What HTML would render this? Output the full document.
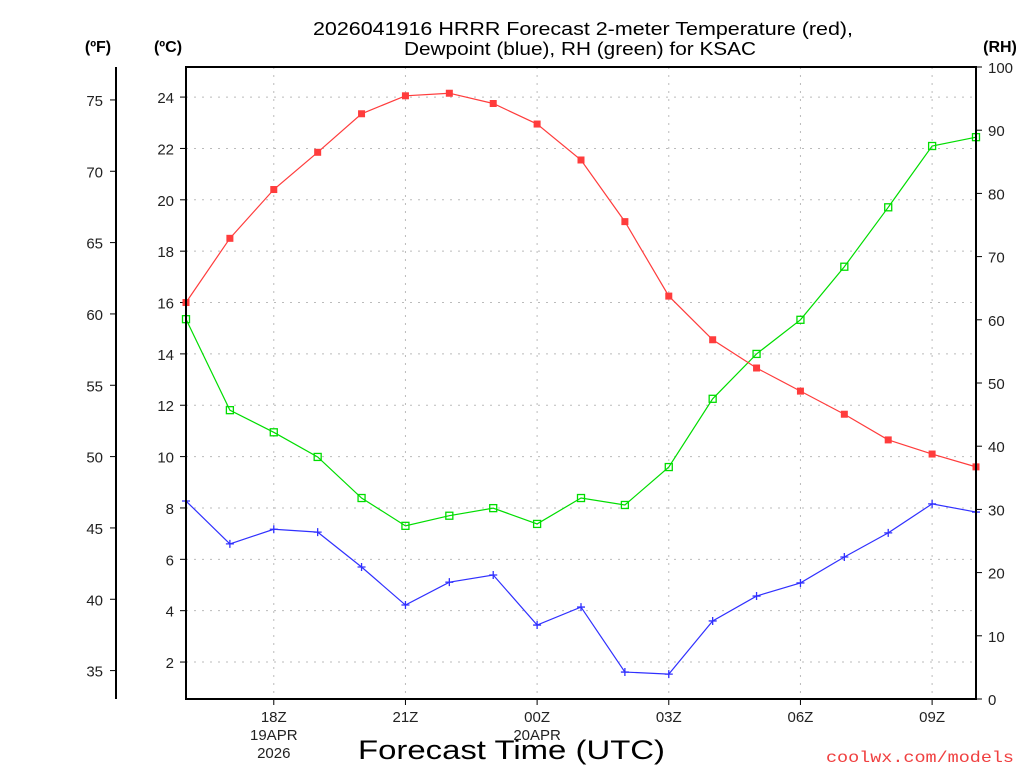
<!DOCTYPE html>
<html><head><meta charset="utf-8"><style>
body{margin:0;background:#fff;width:1024px;height:768px;overflow:hidden}
svg{font-family:"Liberation Sans","DejaVu Sans",sans-serif}
</style></head><body>
<svg id="c" width="1024" height="768" xmlns="http://www.w3.org/2000/svg"></svg>
<script>
const hours=["16Z","17Z","18Z","19Z","20Z","21Z","22Z","23Z","00Z","01Z","02Z","03Z","04Z","05Z","06Z","07Z","08Z","09Z","10Z"];
const tempC=[16.0,18.5,20.4,21.85,23.35,24.05,24.15,23.75,22.95,21.55,19.15,16.25,14.55,13.45,12.55,11.65,10.65,10.1,9.6];
const dewC=[8.27,6.6,7.17,7.06,5.7,4.22,5.11,5.39,3.44,4.14,1.61,1.53,3.6,4.57,5.08,6.09,7.03,8.16,7.84];
const rh=[60.1,45.7,42.2,38.3,31.8,27.4,29.0,30.2,27.7,31.8,30.7,36.7,47.5,54.6,60.0,68.4,77.8,87.5,88.9];
const cTicks=[2,4,6,8,10,12,14,16,18,20,22,24];
const fTicks=[35,40,45,50,55,60,65,70,75];
const rhTicks=[0,10,20,30,40,50,60,70,80,90,100];
const xLabels=[[2,"18Z","19APR","2026"],[5,"21Z"],[8,"00Z","20APR"],[11,"03Z"],[14,"06Z"],[17,"09Z"]];
const X0=186,X1=976,Y0=67,Y1=699;
const x=i=>X0+(X1-X0)*i/(hours.length-1);
const yC=c=>713.4-c*25.68;
const yF=f=>yC((f-32)/1.8);
const yR=r=>Y1-(Y1-Y0)*r/100;
const s=document.getElementById('c');
function el(t,a,txt){const e=document.createElementNS('http://www.w3.org/2000/svg',t);for(const k in a)e.setAttribute(k,a[k]);if(txt!==undefined)e.textContent=txt;s.appendChild(e);return e;}
let e;
cTicks.forEach(c=>{e=el('line',{x1:X0,x2:X1,y1:yC(c),y2:yC(c),stroke:'#bbb','stroke-dasharray':'2,6'});
});
xLabels.forEach(l=>{e=el('line',{x1:x(l[0]),x2:x(l[0]),y1:Y0,y2:Y1,stroke:'#bbb','stroke-dasharray':'2,6'});
});
e=el('text',{x:313,y:35,'font-size':18,textLength:540,lengthAdjust:'spacingAndGlyphs'},'2026041916 HRRR Forecast 2-meter Temperature (red),');

e=el('text',{x:404,y:55,'font-size':18,textLength:352,lengthAdjust:'spacingAndGlyphs'},'Dewpoint (blue), RH (green) for KSAC');

e=el('text',{x:98,y:52,'text-anchor':'middle','font-size':16,'font-weight':'bold'},'(ºF)');

e=el('text',{x:168,y:52,'text-anchor':'middle','font-size':16,'font-weight':'bold'},'(ºC)');

e=el('text',{x:1000,y:52,'text-anchor':'middle','font-size':16,'font-weight':'bold'},'(RH)');

e=el('line',{x1:116,x2:116,y1:Y0,y2:Y1,stroke:'#000','stroke-width':2});

fTicks.forEach(f=>{el('line',{x1:110,x2:116,y1:yF(f),y2:yF(f),stroke:'#000'});
e=el('text',{x:103,y:yF(f)+6,'text-anchor':'end','font-size':15,fill:'#222'},f);
});
cTicks.forEach(c=>{el('line',{x1:180,x2:X0,y1:yC(c),y2:yC(c),stroke:'#000'});
e=el('text',{x:174,y:yC(c)+6,'text-anchor':'end','font-size':15,fill:'#222'},c);
});
rhTicks.forEach(r=>{el('line',{x1:X1,x2:X1+6,y1:yR(r),y2:yR(r),stroke:'#000'});
e=el('text',{x:988,y:yR(r)+6,'font-size':15,fill:'#222'},r);
});
xLabels.forEach(l=>{el('line',{x1:x(l[0]),x2:x(l[0]),y1:Y1,y2:Y1+6,stroke:'#000'});
for(let k=1;k<l.length;k++){e=el('text',{x:x(l[0]),y:Y1+23+(k-1)*18,'text-anchor':'middle','font-size':15,fill:'#222'},l[k]);
}});
e=el('text',{x:358,y:759,'font-size':27,textLength:307,lengthAdjust:'spacingAndGlyphs'},'Forecast Time (UTC)');

e=el('text',{x:826,y:762,'font-size':16,fill:'#f04040','font-family':'Liberation Mono, monospace',textLength:188,lengthAdjust:'spacingAndGlyphs'},'coolwx.com/models');

function series(vals,yf,col,name,mk){
 e=el('polyline',{points:vals.map((v,i)=>x(i)+','+yf(v)).join(' '),fill:'none',stroke:col,'stroke-width':1.2});
 
 vals.forEach((v,i)=>{const px=x(i),py=yf(v);
  if(mk==='fill'){e=el('rect',{x:px-3.5,y:py-3.5,width:7,height:7,fill:col});}
  else if(mk==='open'){e=el('rect',{x:px-3.5,y:py-3.5,width:7,height:7,fill:'none',stroke:col,'stroke-width':1.3});}
  else{e=el('path',{d:`M${px-4},${py}H${px+4}M${px},${py-4}V${py+4}`,stroke:col,'stroke-width':1.3});}
  });
}
series(rh,yR,'#00dd00','rh','open');
series(dewC,yC,'#3030ff','dewpoint','plus');
series(tempC,yC,'#ff3c3c','temperature','fill');
e=el('rect',{x:X0,y:Y0,width:X1-X0,height:Y1-Y0,fill:'none',stroke:'#000','stroke-width':2});

</script>
</body></html>
